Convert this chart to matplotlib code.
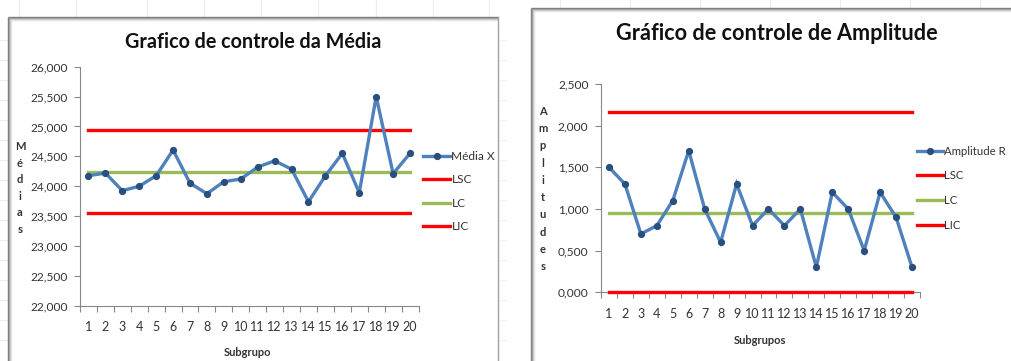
import matplotlib
matplotlib.use("Agg")
import matplotlib.pyplot as plt
from matplotlib.lines import Line2D
from matplotlib.ticker import FuncFormatter, FixedLocator, NullFormatter

# ---- data ----
subgrupos = list(range(1, 21))
media_x = [24.175, 24.220, 23.925, 24.000, 24.175, 24.605, 24.050, 23.875, 24.075, 24.120,
           24.320, 24.425, 24.285, 23.740, 24.175, 24.550, 23.890, 25.500, 24.210, 24.550]
lsc_x = 24.940
lc_x = 24.245
lic_x = 23.550

amplitude_r = [1.5, 1.3, 0.7, 0.8, 1.1, 1.7, 1.0, 0.6, 1.3, 0.8,
               1.0, 0.8, 1.0, 0.3, 1.2, 1.0, 0.5, 1.2, 0.9, 0.3]
lsc_r = 2.168
lc_r = 0.950
lic_r = 0.000

W, H = 1011, 361
FONT = ["Lato", "DejaVu Sans"]
BLUE = "#4F81BD"
MARK = "#2A4F7E"
RED = "#FF0000"
GREEN = "#9BBB59"
AXC = "#888888"
TXT = "#333333"

plt.rcParams["font.family"] = FONT

fig = plt.figure(figsize=(W / 100, H / 100), dpi=100)
fig.patch.set_facecolor("white")


def fx(px):
    return px / W


def fy(py):
    return 1 - py / H


# faint worksheet cell lines around the embedded charts
for x in [19, 76, 147, 204, 261, 318, 376, 433, 489]:
    fig.add_artist(Line2D([fx(x), fx(x)], [fy(0), fy(16)], color="#ececec", lw=0.8))
for y in [40, 60, 80, 100, 120, 140, 160, 180, 200, 220, 240, 260, 280, 300, 320, 340]:
    fig.add_artist(Line2D([fx(0), fx(7)], [fy(y), fy(y)], color="#ececec", lw=0.8))
    fig.add_artist(Line2D([fx(500), fx(506)], [fy(y), fy(y)], color="#f2f2f2", lw=0.8))
for x in [560, 630, 700, 770, 840, 910, 980]:
    fig.add_artist(Line2D([fx(x), fx(x)], [fy(0), fy(7)], color="#ececec", lw=0.8))


def frame(left, top, right=None):
    """Grey chart-area border with a soft inner shadow."""
    shades = ["#7a7a7a", "#9a9a9a", "#c4c4c4", "#e4e4e4"]
    r = right if right is not None else W + 5
    for i, c in enumerate(shades):
        fig.add_artist(Line2D([fx(left + i), fx(left + i)], [fy(top + i), fy(H + 5)],
                              color=c, lw=1.0, solid_capstyle="butt"))
        fig.add_artist(Line2D([fx(left + i), fx(r)], [fy(top + i), fy(top + i)],
                              color=c, lw=1.0, solid_capstyle="butt"))
    if right is not None:
        fig.add_artist(Line2D([fx(right), fx(right)], [fy(top), fy(H + 5)],
                              color="#a0a0a0", lw=1.0))


frame(8, 17, 498)
frame(531, 8)

fmt = FuncFormatter(lambda v, p: f"{v:.3f}".replace(".", ","))


def control_chart(rect, values, lsc, lc, lic, ylim, ystep, series_label):
    ax = fig.add_axes(rect)
    ax.set_facecolor("none")
    ax.plot(subgrupos, values, color=BLUE, lw=2.4, marker="o", ms=4.2,
            mfc=MARK, mec=MARK, label=series_label, zorder=4, solid_joinstyle="miter")
    for val, col, lab in [(lsc, RED, "LSC"), (lc, GREEN, "LC"), (lic, RED, "LIC")]:
        ax.plot([subgrupos[0], subgrupos[-1]], [val, val], color=col, lw=2.4,
                label=lab, zorder=3, clip_on=False)
    ax.set_xlim(0.5, 20.5)
    ax.set_ylim(*ylim)
    n = int(round((ylim[1] - ylim[0]) / ystep))
    ax.yaxis.set_major_locator(FixedLocator([ylim[0] + i * ystep for i in range(n + 1)]))
    ax.yaxis.set_major_formatter(fmt)
    ax.xaxis.set_major_locator(FixedLocator([i + 0.5 for i in range(0, 21)]))
    ax.xaxis.set_major_formatter(NullFormatter())
    ax.xaxis.set_minor_locator(FixedLocator(subgrupos))
    ax.xaxis.set_minor_formatter(FuncFormatter(lambda v, p: str(int(round(v)))))
    ax.tick_params(axis="x", which="major", direction="out", length=4, color=AXC, width=0.8)
    ax.tick_params(axis="x", which="minor", length=0, pad=11, labelsize=9, labelcolor=TXT)
    ax.tick_params(axis="y", direction="out", length=4, color=AXC, width=0.8,
                   labelsize=8.6, labelcolor=TXT, pad=5)
    for s in ["top", "right"]:
        ax.spines[s].set_visible(False)
    for s in ["left", "bottom"]:
        ax.spines[s].set_color(AXC)
        ax.spines[s].set_linewidth(0.8)
    return ax


# left: chart of the means
axL = control_chart([fx(80), fy(305.7), fx(418.5) - fx(80), fy(66.7) - fy(305.7)],
                    media_x, lsc_x, lc_x, lic_x, (22.0, 26.0), 0.5, "Média X")
fig.text(fx(253), fy(42), "Grafico de controle da Média", ha="center", va="center",
         fontsize=14.2, fontweight="bold", color="#111111")
fig.text(fx(248), fy(353), "Subgrupo", ha="center", va="center", fontsize=8,
         fontweight="bold", color=TXT)
fig.text(fx(20), fy(188), "\n".join("Médias"), ha="center", va="center", fontsize=8,
         fontweight="bold", color=TXT, linespacing=1.62)
axL.legend(loc="upper left", bbox_to_anchor=(fx(418), fy(146)), bbox_transform=fig.transFigure,
           frameon=False, fontsize=8.6, handlelength=2.3, handletextpad=0.1,
           labelspacing=1.05, borderaxespad=0, labelcolor=TXT)

# right: chart of the ranges
axR = control_chart([fx(601), fy(292.3), fx(920) - fx(601), fy(84) - fy(292.3)],
                    amplitude_r, lsc_r, lc_r, lic_r, (0.0, 2.5), 0.5, "Amplitude R")
fig.text(fx(777), fy(33), "Gráfico de controle de Amplitude", ha="center", va="center",
         fontsize=15.6, fontweight="bold", color="#111111")
fig.text(fx(760), fy(340), "Subgrupos", ha="center", va="center", fontsize=8,
         fontweight="bold", color=TXT)
fig.text(fx(543), fy(189), "\n".join("Amplitudes"), ha="center", va="center", fontsize=8,
         fontweight="bold", color=TXT, linespacing=1.7)
axR.legend(loc="upper left", bbox_to_anchor=(fx(912), fy(141)), bbox_transform=fig.transFigure,
           frameon=False, fontsize=8.2, handlelength=2.3, handletextpad=0.1,
           labelspacing=1.2, borderaxespad=0, labelcolor=TXT)

fig.savefig("out.png", dpi=100, facecolor="white")
